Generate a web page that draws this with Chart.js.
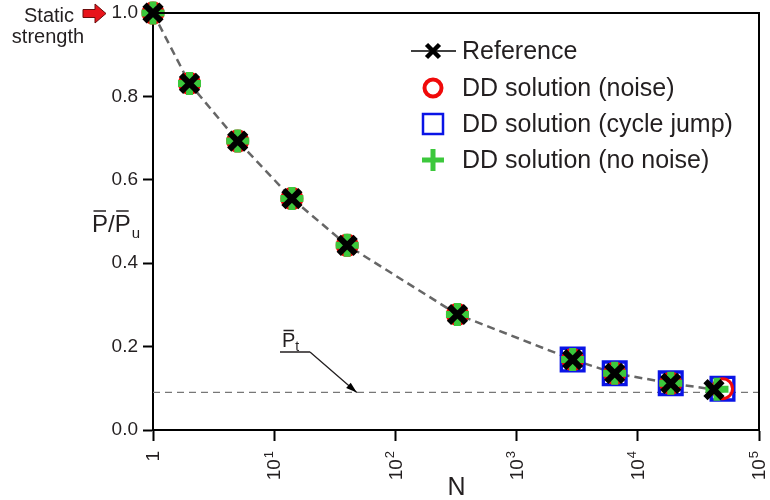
<!DOCTYPE html>
<html lang="en">
<head>
<meta charset="UTF-8">
<title>Static strength vs N</title>
<script src="https://cdn.jsdelivr.net/npm/chart.js"></script>
<style>
  html, body { margin: 0; padding: 0; background: #fff; }
  #wrap { width: 770px; height: 500px; }
</style>
</head>
<body>
<div id="wrap"><canvas id="grafico"></canvas></div>
<script>
// number of cycles N and normalised load P/Pu
const nRef = [1, 2, 5, 14, 40, 325, 2900, 6450, 18700, 42500];
const pRef = [1.0, 0.831, 0.693, 0.555, 0.443, 0.277, 0.169, 0.136, 0.112, 0.097];

const nNoise = [1, 2, 5, 14, 40, 325, 2900, 6450, 18700, 50000];
const pNoise = [1.0, 0.831, 0.693, 0.555, 0.443, 0.277, 0.169, 0.136, 0.112, 0.099];

const nJump = [2900, 6450, 18700, 50000];
const pJump = [0.169, 0.136, 0.112, 0.099];

const nNoNoise = [1, 2, 5, 14, 40, 325, 2900, 6450, 18700, 45000];
const pNoNoise = [1.0, 0.831, 0.693, 0.555, 0.443, 0.277, 0.169, 0.136, 0.112, 0.098];

const pThreshold = 0.09;          // P_t
const nArrowTip = 48;             // where the P_t arrow lands

// x tick labels: base + exponent (drawn rotated, exponent as superscript)
const xTicks = [1, 10, 100, 1000, 10000, 100000];
const xTickBase = ['1', '10', '10', '10', '10', '10'];
const xTickExp = ['', '1', '2', '3', '4', '5'];
const yTicks = [0, 0.2, 0.4, 0.6, 0.8, 1.0];

const legendLabels = ['Reference', 'DD solution (noise)', 'DD solution (cycle jump)', 'DD solution (no noise)'];

const FONT = '"Liberation Sans", Arial, "DejaVu Sans", sans-serif';
const TXT = '#231f20';
const RED = '#f00a0a';
const BLUE = '#0a14e6';
const GREEN = '#3cc83c';

function pts(xs, ys) {
    return xs.map((x, i) => ({ x: x, y: ys[i] }));
}

// frame, legend, titles and annotations
const extras = {
    id: 'extras',
    afterDraw(chart) {
        const ctx = chart.ctx;
        const a = chart.chartArea;
        const xs = chart.scales.x, ys = chart.scales.y;
        ctx.save();

        // top + right border of the box
        ctx.strokeStyle = '#000';
        ctx.lineWidth = 2;
        ctx.beginPath();
        ctx.moveTo(a.left, a.top);
        ctx.lineTo(a.right, a.top);
        ctx.lineTo(a.right, a.bottom);
        ctx.stroke();

        // x tick labels, rotated, reading upwards
        ctx.fillStyle = TXT;
        ctx.textBaseline = 'middle';
        ctx.textAlign = 'right';
        xTicks.forEach((v, i) => {
            const px = xs.getPixelForValue(v);
            ctx.save();
            ctx.translate(px, a.bottom + 20);
            ctx.rotate(-Math.PI / 2);
            let off = 0;
            if (xTickExp[i]) {
                ctx.font = '13px ' + FONT;
                ctx.fillText(xTickExp[i], -1, -5);
                off = ctx.measureText(xTickExp[i]).width + 1;
            }
            ctx.font = '19px ' + FONT;
            ctx.fillText(xTickBase[i], -off - 1, 1);
            ctx.restore();
        });

        // legend
        ctx.font = '25px ' + FONT;
        ctx.fillStyle = TXT;
        ctx.textBaseline = 'middle';
        ctx.textAlign = 'left';
        const lx = 433, tx = 462;
        const rows = [51, 88, 124, 160];
        legendLabels.forEach((t, i) => ctx.fillText(t, tx, rows[i] + 1));

        // reference: line + X
        ctx.strokeStyle = '#000';
        ctx.lineWidth = 1.5;
        ctx.beginPath();
        ctx.moveTo(411, rows[0]); ctx.lineTo(456, rows[0]);
        ctx.stroke();
        ctx.lineWidth = 4.5;
        ctx.beginPath();
        ctx.moveTo(lx - 6.5, rows[0] - 6.5); ctx.lineTo(lx + 6.5, rows[0] + 6.5);
        ctx.moveTo(lx + 6.5, rows[0] - 6.5); ctx.lineTo(lx - 6.5, rows[0] + 6.5);
        ctx.stroke();
        // circle
        ctx.strokeStyle = RED;
        ctx.lineWidth = 4;
        ctx.beginPath();
        ctx.arc(lx, rows[1], 8.5, 0, Math.PI * 2);
        ctx.stroke();
        // square
        ctx.strokeStyle = BLUE;
        ctx.lineWidth = 2.5;
        ctx.strokeRect(lx - 10, rows[2] - 10, 20, 20);
        // plus
        ctx.strokeStyle = GREEN;
        ctx.lineWidth = 5;
        ctx.beginPath();
        ctx.moveTo(lx - 11, rows[3]); ctx.lineTo(lx + 11, rows[3]);
        ctx.moveTo(lx, rows[3] - 11); ctx.lineTo(lx, rows[3] + 11);
        ctx.stroke();

        // y title  P/P_u with bars
        ctx.fillStyle = TXT;
        ctx.strokeStyle = TXT;
        ctx.textBaseline = 'alphabetic';
        ctx.font = '24px ' + FONT;
        let x0 = 92;
        const base = 232;
        const wP = ctx.measureText('P').width;
        const wS = ctx.measureText('/').width;
        ctx.fillText('P', x0, base);
        ctx.fillText('/', x0 + wP, base);
        ctx.fillText('P', x0 + wP + wS, base);
        ctx.lineWidth = 1.5;
        ctx.beginPath();
        ctx.moveTo(x0 + 1.5, base - 21); ctx.lineTo(x0 + wP - 2, base - 21);
        ctx.moveTo(x0 + wP + wS + 1.5, base - 21); ctx.lineTo(x0 + 2 * wP + wS - 2, base - 21);
        ctx.stroke();
        ctx.font = '15px ' + FONT;
        ctx.fillText('u', x0 + 2 * wP + wS + 1, base + 6);

        // x title
        ctx.font = '25px ' + FONT;
        ctx.textAlign = 'center';
        ctx.fillText('N', 456.5, 495);

        // static strength note + red arrow
        ctx.font = '20px ' + FONT;
        ctx.fillText('Static', 49, 22);
        ctx.fillText('strength', 48, 43);
        ctx.fillStyle = '#e8141b';
        ctx.strokeStyle = '#6b0d0d';
        ctx.lineWidth = 1;
        ctx.beginPath();
        ctx.moveTo(83, 9.5); ctx.lineTo(95, 9.5); ctx.lineTo(95, 4);
        ctx.lineTo(106, 13.5);
        ctx.lineTo(95, 23); ctx.lineTo(95, 17.5); ctx.lineTo(83, 17.5);
        ctx.closePath();
        ctx.fill();
        ctx.stroke();

        // P_t label with leader arrow
        ctx.fillStyle = TXT;
        ctx.strokeStyle = TXT;
        ctx.textAlign = 'left';
        ctx.font = '20px ' + FONT;
        ctx.fillText('P', 282, 347);
        const wPt = ctx.measureText('P').width;
        ctx.font = '14px ' + FONT;
        ctx.fillText('t', 282 + wPt, 351);
        ctx.lineWidth = 1.3;
        ctx.beginPath();
        ctx.moveTo(283.5, 330.5); ctx.lineTo(282 + wPt - 1.5, 330.5);
        ctx.moveTo(280, 352); ctx.lineTo(310, 352);
        const tipX = xs.getPixelForValue(nArrowTip);
        const tipY = ys.getPixelForValue(pThreshold);
        ctx.moveTo(310, 352); ctx.lineTo(tipX, tipY);
        ctx.stroke();
        const ang = Math.atan2(tipY - 352, tipX - 310);
        ctx.fillStyle = '#000';
        ctx.beginPath();
        ctx.moveTo(tipX, tipY);
        ctx.lineTo(tipX - 11 * Math.cos(ang) + 3.5 * Math.sin(ang), tipY - 11 * Math.sin(ang) - 3.5 * Math.cos(ang));
        ctx.lineTo(tipX - 11 * Math.cos(ang) - 3.5 * Math.sin(ang), tipY - 11 * Math.sin(ang) + 3.5 * Math.cos(ang));
        ctx.closePath();
        ctx.fill();

        ctx.restore();
    }
};

const ctx = document.getElementById('grafico').getContext('2d');
const grafico = new Chart(ctx, {
    type: 'scatter',
    data: {
        datasets: [
            {   // reference markers
                label: legendLabels[0],
                data: pts(nRef, pRef),
                pointStyle: 'crossRot',
                pointRadius: 12,
                pointBorderWidth: 6,
                borderColor: '#000',
                backgroundColor: '#000',
                showLine: false,
                clip: false,
                order: 0
            },
            {
                label: legendLabels[3],
                data: pts(nNoNoise, pNoNoise),
                pointStyle: 'cross',
                pointRadius: 11.5,
                pointBorderWidth: 7,
                borderColor: GREEN,
                backgroundColor: GREEN,
                showLine: false,
                clip: false,
                order: 1
            },
            {
                label: legendLabels[1],
                data: pts(nNoise, pNoise),
                pointStyle: 'circle',
                pointRadius: 10,
                pointBorderWidth: 3,
                borderColor: RED,
                backgroundColor: 'rgba(0,0,0,0)',
                showLine: false,
                clip: false,
                order: 2
            },
            {
                label: legendLabels[2],
                data: pts(nJump, pJump),
                pointStyle: 'rect',
                pointRadius: 16,
                pointBorderWidth: 3.4,
                borderColor: BLUE,
                backgroundColor: 'rgba(255,255,255,0.6)',
                showLine: false,
                clip: false,
                order: 3
            },
            {   // dashed reference curve
                label: 'ref line',
                data: pts(nRef, pRef),
                showLine: true,
                pointRadius: 0,
                borderColor: '#666',
                borderWidth: 2.5,
                borderDash: [8, 5],
                tension: 0,
                order: 4
            },
            {   // P_t threshold
                label: 'Pt',
                data: pts([xTicks[0], xTicks[xTicks.length - 1]], [pThreshold, pThreshold]),
                showLine: true,
                pointRadius: 0,
                borderColor: '#777',
                borderWidth: 1.3,
                borderDash: [7, 5],
                order: 5
            }
        ]
    },
    options: {
        responsive: true,
        maintainAspectRatio: false,
        animation: false,
        events: [],
        layout: { autoPadding: false, padding: { left: 0, right: 11, top: 13, bottom: 0 } },
        plugins: {
            legend: { display: false },
            tooltip: { enabled: false }
        },
        scales: {
            x: {
                type: 'logarithmic',
                min: xTicks[0],
                max: xTicks[xTicks.length - 1],
                afterBuildTicks: (s) => { s.ticks = xTicks.map(v => ({ value: v })); },
                afterFit: (s) => { s.height = 70; s.paddingLeft = 0; s.paddingRight = 0; },
                border: { color: '#000', width: 2 },
                grid: { drawOnChartArea: false, drawTicks: true, tickLength: 11, tickWidth: 2, tickColor: '#000' },
                ticks: { display: false, autoSkip: false }
            },
            y: {
                type: 'linear',
                min: yTicks[0],
                max: yTicks[yTicks.length - 1],
                afterBuildTicks: (s) => { s.ticks = yTicks.map(v => ({ value: v })); },
                afterFit: (s) => { s.width = 153; s.paddingTop = 0; s.paddingBottom = 0; },
                border: { color: '#000', width: 2 },
                grid: { drawOnChartArea: false, drawTicks: true, tickLength: 10, tickWidth: 2, tickColor: '#000' },
                ticks: {
                    padding: 5,
                    color: TXT,
                    font: { family: FONT, size: 19 },
                    callback: (v) => v.toFixed(1)
                }
            }
        }
    },
    plugins: [extras]
});
</script>
</body>
</html>
